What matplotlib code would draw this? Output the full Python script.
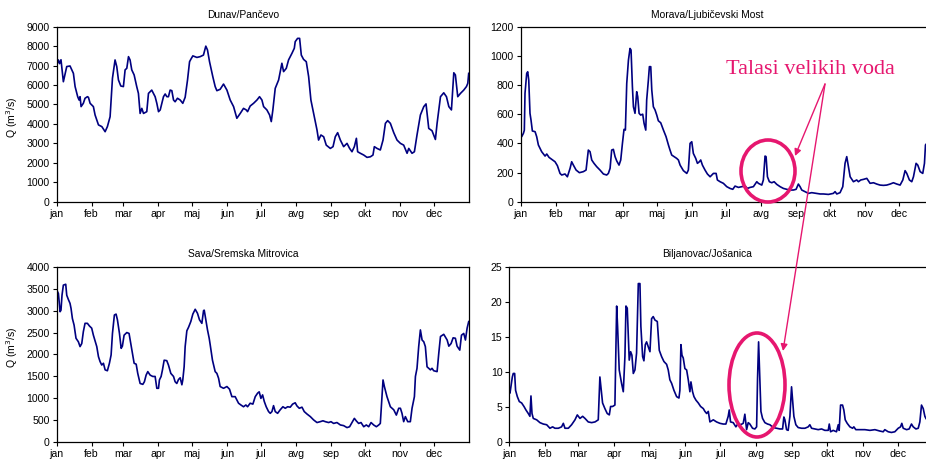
import matplotlib.pyplot as plt
from matplotlib.patches import Ellipse, FancyArrowPatch

plt.rcParams['font.family'] = ['Liberation Sans', 'DejaVu Sans']

months = ['jan', 'feb', 'mar', 'apr', 'maj', 'jun', 'jul', 'avg', 'sep', 'okt', 'nov', 'dec']
month_start = [0, 31, 59, 90, 120, 151, 181, 212, 243, 273, 304, 334]

# Dunav/Pančevo
dunav_day = [0, 1.5, 2.5, 3.8, 5.9, 8.9, 11.8, 14.8, 16.3, 18.6, 19.8, 20.7, 21.6, 23.6, 25.1, 27.2,
             28.1, 29.6, 32.5, 34, 37, 40, 42.9, 44.9, 47.3, 49.4, 51.7, 53.2, 54.7, 56.8, 59.1, 60.6,
             62.1, 63.6, 65, 66.5, 68.6, 70.9, 72.4, 73.9, 75.4, 76.9, 79.8, 81.3, 82.8, 84.2, 85.7,
             87.2, 88.7, 90.2, 91.7, 94.6, 96.1, 97.6, 99, 100.5, 102, 103.5, 104.9, 107, 109.4, 111.7,
             113.8, 115.9, 117.7, 118.8, 120.6, 124.2, 127.1, 130, 132.1, 133.6, 135.4, 138.3, 140.4,
             141.9, 144.8, 147.8, 150.8, 153.7, 156.7, 159.6, 162.6, 165.5, 167.9, 169.1, 171.4, 174.4,
             177.4, 179.7, 181.8, 183.3, 186.2, 188.6, 190.1, 191.5, 193.6, 196.6, 199.5, 201, 203.4,
             205.4, 208.4, 210.5, 211.3, 213.4, 215.2, 216.7, 218.7, 221.1, 223.2, 225.2, 227.6, 230.6,
             232, 234.1, 236.5, 238.8, 242.4, 244.8, 246.8, 248.9, 251.3, 254.2, 257.2, 259.5, 261.6,
             263.7, 265.5, 266.6, 269, 272, 274.9, 277.9, 280.2, 281.4, 283.8, 286.7, 289.1, 291.2,
             293.2, 295.6, 298.6, 301.5, 304.5, 307.4, 310.4, 311.9, 314.8, 316.9, 319.2, 322.2, 325.2,
             327.2, 329.6, 332.5, 335.5, 337, 340, 342.9, 345.3, 347.4, 349.7, 351.8, 353.2, 355.3,
             357.7, 360.6, 363, 364.2, 365]
dunav_q = [7030, 7290, 7100, 7300, 6170, 6950, 6980, 6600, 5920, 5400, 5230, 5400, 4890, 5060, 5320, 5400,
           5370, 5060, 4890, 4460, 3950, 3860, 3600, 3860, 4370, 6350, 7290, 6950, 6260, 5950, 5920, 6780,
           6860, 7460, 7290, 6780, 6520, 5920, 5570, 4540, 4800, 4540, 4630, 5570, 5660, 5740, 5570,
           5400, 5060, 4630, 4720, 5400, 5540, 5400, 5400, 5740, 5710, 5230, 5140, 5320, 5230, 5060,
           5370, 6260, 7200, 7320, 7500, 7420, 7460, 7540, 8000, 7800, 7200, 6430, 5920,
           5710, 5780, 6050, 5740, 5230, 4890, 4290, 4540, 4800, 4720, 4630, 4920, 5060,
           5230, 5400, 5230, 4890, 4720, 4460, 4120, 4720, 5830, 6260, 7120, 6690, 6860,
           7290, 7630, 7890, 8230, 8400, 8400, 7540, 7320, 7200, 6430, 5230, 4540, 3690,
           3170, 3430, 3340, 2910, 2740, 2830, 3340, 3550, 3170, 2830, 3000, 2740, 2570,
           2830, 3260, 2570, 2490, 2400, 2280, 2310, 2400, 2830, 2740, 2660, 3170, 4030,
           4170, 4030, 3550, 3170, 3000, 2910, 2490, 2740, 2490, 2570, 3430, 4460, 4890,
           5030, 3770, 3650, 3200, 4030, 5400, 5600, 5400, 4890, 4720, 6630, 6520, 5400,
           5570, 5740, 5920, 6090, 6600]

# Morava/Ljubičevski Most
morava_day = [0, 0.9, 2.4, 3.2, 3.8, 5.3, 6.2, 7.1, 8.2, 9.1, 10.3, 12.7, 14.1, 15.6, 18.5, 21.5, 23, 25,
              27.4, 30.3, 32.4, 34.7, 36.2, 39.1, 41.2, 43.6, 45, 46.5, 48.9, 51.8, 55.3, 57.7, 59.7,
              61.2, 62.7, 64.7, 67.1, 70, 73, 75.9, 77.4, 78.9, 80.3, 81.8, 83.3, 84.8, 86.8, 88.3,
              89.8, 91.2, 92.4, 93.6, 95.1, 96.5, 97.4, 98.6, 99.5, 100.9, 102.4, 103.3, 104.5, 105.9,
              107.7, 108.9, 110.4, 111.2, 112.7, 113.6, 114.8, 115.7, 117.1, 118.6, 120.1, 121.5,
              123.6, 126, 128.3, 130.4, 131.8, 133.3, 135.4, 137.7, 139.2, 140.7, 143.6, 146.6, 148,
              149.5, 151, 152.4, 154.5, 156, 157.7, 158.9, 160.4, 162.7, 164.8, 167.2, 170.1, 172.5,
              173.6, 176, 178.9, 181.9, 184.8, 187.2, 189.2, 192.2, 195.1, 198.1, 200.1, 202.5, 205.4,
              208.4, 209.8, 212.8, 214.2, 215.7, 216.6, 217.8, 219.5, 221.6, 223.7, 226, 229, 231.9,
              234.8, 237.8, 240.7, 243.1, 245.1, 246.6, 248.1, 251, 254, 256.9, 261.3, 264.3, 267.2,
              271.6, 276, 277.5, 279, 281.9, 284.3, 286.3, 287.8, 289.3, 290.8, 293.7, 296.6, 298.1,
              300.2, 302.5, 305.5, 306.9, 308.4, 311.4, 314.3, 317.2, 320.2, 323.1, 326.1, 329, 332,
              334.9, 337.3, 339.3, 340.8, 343.1, 345.2, 346.7, 349, 350.5, 352.6, 354.9, 356.4,
              357.3, 358.5, 360]
morava_q = [480, 446, 469, 490, 743, 880, 891, 834, 606, 560, 485, 480, 446, 389, 343, 313, 327, 304,
            290, 274, 247, 194, 183, 190, 171, 229, 274, 251, 217, 199, 206, 217, 354,
            343, 286, 263, 240, 217, 190, 183, 194, 229, 354, 359, 309, 279, 251, 286,
            400, 496, 491, 811, 971, 1051, 1040, 789, 651, 606, 754, 720, 606, 594,
            600, 537, 491, 697, 834, 926, 926, 766, 651, 629, 594, 555,
            541, 491, 446, 389, 354, 320, 309, 297, 286, 251, 213, 194, 217,
            400, 411, 331, 297, 263, 274, 286, 251, 217, 190, 171, 194, 194,
            149, 137, 126, 103, 91, 85, 107, 98, 103, 107, 91, 98, 103,
            137, 126, 114, 149, 313, 309, 171, 137, 130, 137, 119, 103, 91,
            85, 80, 80, 85, 121, 103, 80, 69, 57, 62, 57, 53, 53,
            50, 57, 69, 53, 62, 103, 263, 309, 240, 171, 137, 149, 137,
            149, 153, 160, 144, 126, 130, 121, 114, 112, 114, 121, 130, 121,
            114, 149, 213, 194, 149, 137, 171, 263, 251, 206, 194, 263,
            389, 400, 480]

# Sava/Sremska Mitrovica
sava_day = [0, 1.5, 3, 3.8, 4.7, 5.9, 8, 8.9, 10.3, 11.8, 12.7, 13.9, 15.4, 17.1, 19.2, 20.7, 22.2, 23.6,
            25.1, 27.2, 29, 31, 32.5, 35.5, 37, 38.4, 39.9, 41.4, 42.9, 44.9, 46.7, 48.2, 49.4, 51.1,
            52.6, 53.8, 55.6, 57.1, 58.2, 59.7, 62.1, 64.1, 65.6, 67.1, 68.6, 70.4, 71.8, 73.9, 76.3,
            77.7, 79.2, 80.7, 82.8, 85.1, 87.2, 88.7, 90.2, 91, 92.5, 93.7, 95.2, 97.5, 99, 101.1,
            103.5, 104.9, 106.4, 107.9, 109.4, 110.9, 111.7, 112.9, 113.8, 115.3, 116.8, 118.8, 120.6,
            122.7, 124.7, 126.5, 128.6, 130.1, 130.7, 132.1, 133.6, 135.1, 136, 138, 140.4, 141.9,
            143.4, 144.8, 147.8, 150.8, 153.1, 155.2, 158.1, 161.1, 163.2, 165.5, 167.6, 169.1, 171.4,
            173.8, 175.9, 178, 179.4, 180.9, 182.4, 183.9, 185.6, 187.7, 189.2, 190.7, 192.1, 193.6,
            195.7, 198, 200.4, 202.5, 204.6, 206.9, 209, 211.3, 212.8, 214.9, 217.3, 219.3, 221.7,
            224.7, 227.6, 230.6, 233.5, 235.9, 238, 240.9, 243, 245.3, 248.3, 251.3, 254.2, 257.2,
            259.5, 261.6, 263.7, 265.5, 267.5, 269.6, 272, 274.3, 276.4, 278.5, 280.8, 283.2, 285.3,
            286.7, 287.6, 289.1, 290.3, 292.6, 295.6, 298.6, 300.9, 303, 304.5, 305.9, 307.4, 308.9,
            311, 313.3, 314.8, 316.9, 317.8, 319.2, 320.7, 322.2, 323.7, 325.2, 326.6, 328.1, 331.1,
            332.5, 334, 337, 338.5, 340, 342.9, 345.9, 347.4, 349.4, 351.2, 353.2, 354.7, 357.1,
            358.6, 360.6, 362.1, 363.6, 365]
sava_q = [3470, 3390, 2975, 3010, 3350, 3580, 3600, 3350, 3255, 3165, 3050, 2820, 2670, 2370, 2290, 2180, 2250, 2520,
          2710, 2710, 2650, 2600, 2440, 2180, 1950, 1840, 1760, 1800, 1650, 1630, 1800, 1990, 2480, 2900,
          2920, 2790, 2480, 2140, 2190, 2440, 2500, 2480, 2250, 2030, 1800, 1780, 1570, 1340, 1320,
          1380, 1530, 1610, 1530, 1500, 1500, 1230, 1230, 1420, 1500, 1650, 1870, 1860, 1760, 1570,
          1500, 1380, 1340, 1430, 1470, 1310, 1420, 1720, 2180, 2540, 2620, 2750, 2920,
          3030, 2940, 2790, 2710, 3000, 3010, 2790, 2560, 2370, 2220, 1870, 1610, 1570,
          1460, 1270, 1230, 1270, 1210, 1040, 1040, 890, 850, 810, 850, 810, 890,
          870, 1040, 1120, 1150, 1000, 1080, 930, 810, 700, 660, 700, 835, 700,
          660, 740, 810, 775, 810, 800, 870, 900, 830, 775, 800, 700, 645,
          585, 510, 450, 470, 490, 470, 450, 470, 430, 450, 395, 380, 335,
          355, 450, 545, 485, 430, 450, 355, 395, 355, 450, 395, 355, 395,
          430, 810, 1420, 1270, 1040, 810, 740, 620, 775, 775, 660, 470, 585,
          470, 470, 775, 1040, 1500, 1685, 2180, 2560, 2330, 2290, 2180, 1720, 1650,
          1685, 1630, 1610, 2030, 2410, 2460, 2330, 2190, 2250, 2380, 2370, 2190, 2100,
          2440, 2480, 2330, 2600, 2750]

# Biljanovac/Jošanica
bilj_day = [0, 0.6, 1.4, 2.6, 3.4, 4.6, 5.4, 6.9, 8.6, 10.6, 12.6, 14.3, 16.3, 17.7, 18.6, 19.5, 20.6,
            23.5, 26.3, 29.2, 32.1, 34.9, 37.2, 39.2, 42.1, 44.9, 46.4, 47.8, 50.7, 53.5, 56.4, 58.4,
            60.7, 63, 65, 67.8, 70.7, 73.6, 76.4, 77.8, 78.7, 80.1, 82.1, 84.1, 85.9, 87, 88.7, 90.7,
            92.2, 93, 94.4, 96.4, 97.9, 99.3, 100.2, 101.3, 102.5, 103, 104.2, 105.3, 106.5, 107.9,
            109.3, 110.8, 112.2, 113, 114.5, 115.6, 116.8, 117.9, 119.3, 120.8, 122.2, 123.6, 125.1,
            127.1, 128.8, 130.8, 132.8, 135.1, 136.5, 137.9, 139.4, 141.4, 143.7, 145.7, 146.5,
            147.4, 148.3, 149.4, 150.8, 152.3, 153.7, 155.1, 156, 157.4, 158.6, 160.3, 162.3, 164.3,
            166.6, 168, 169.5, 170.9, 172.3, 175.2, 178, 180.9, 183.7, 186, 188, 188.9, 190, 192.3,
            194.6, 196.6, 198.6, 200.9, 202.3, 203.8, 205.2, 206.6, 208.9, 210.9, 212.4, 213.2,
            214.1, 214.9, 216.1, 217.5, 219.5, 221.8, 223.8, 226.7, 229.5, 232.4, 234.7, 235.8,
            236.7, 238.1, 239.5, 241, 242.4, 243.3, 244.4, 246.1, 248.1, 251, 253.9, 256.7, 258.1,
            259.6, 262.4, 265.3, 268.2, 271, 273.9, 274.8, 275.9, 278.2, 281, 282.5, 283.3, 284.5,
            286.2, 287.3, 288.5, 290.2, 292.5, 294.8, 295.9, 297.6, 301.1, 305.4, 309.7, 314, 318.3,
            321.1, 322.5, 325.4, 328.2, 331.1, 334, 336, 337.1, 338.3, 341.2, 343.4, 345.4, 346.9,
            349.2, 351.2, 352.6, 354, 355.5, 356.9, 357.8, 359.5]
bilj_q = [7.7, 7.0, 7.9, 9.3, 9.8, 9.8, 7.4, 6.5, 5.8, 5.6, 5.1, 4.6, 4.1, 3.7, 6.6, 4.1, 3.4,
          3.2, 2.8, 2.6, 2.5, 2.0, 2.2, 2.0, 2.0, 2.2, 2.7, 2.0, 2.0, 2.5, 3.2, 3.9,
          3.4, 3.7, 3.4, 2.9, 2.8, 2.9, 3.2, 9.3, 7.9, 5.6, 4.8, 4.1, 3.9, 5.1, 5.1, 5.3,
          19.4, 16.5, 10.3, 8.4, 7.2, 12.2, 19.4, 19.1, 14.1, 11.7, 12.9, 12.4, 9.8, 10.3,
          12.7, 22.6, 22.6, 16.5, 12.2, 11.6, 13.9, 14.3, 13.6, 12.9, 17.6, 17.9, 17.4,
          17.2, 13.1, 12.2, 11.5, 11.1, 10.3, 8.9, 8.4, 7.4, 6.5, 6.3, 7.4,
          13.9, 12.4, 12.0, 10.5, 10.3, 8.9, 7.2, 8.6, 7.2, 6.5, 6.0, 5.6, 5.1,
          4.8, 4.4, 4.1, 4.4, 2.9, 3.2, 2.9, 2.7, 2.6, 2.6, 3.7, 4.6, 2.9, 2.8,
          2.2, 2.7, 2.5, 2.7, 4.0, 1.8, 2.8, 2.6, 2.0, 1.9, 2.2, 9.1,
          14.3, 10.3, 4.4, 3.4, 2.8, 2.6, 2.5, 2.1, 2.0, 1.9, 1.9, 3.6,
          3.2, 1.8, 1.7, 3.7, 7.9, 6.0, 3.7, 2.5, 2.1, 2.0, 2.0, 2.2, 2.5,
          2.0, 1.9, 1.8, 1.9, 1.7, 1.7, 2.6, 1.5, 1.7, 1.5, 2.5, 1.7, 5.3,
          5.3, 4.6, 3.2, 2.7, 2.2, 2.0, 2.2, 1.8, 1.8, 1.8, 1.7, 1.8, 1.6,
          1.5, 1.8, 1.5, 1.4, 1.5, 2.0, 2.2, 2.7, 2.0, 1.8, 1.9, 2.6, 2.2,
          1.9, 2.0, 2.9, 5.3, 4.8, 3.7, 3.4, 3.0]

LINE = '#000080'
PINK = '#E6176F'
W, H = 926, 463

fig = plt.figure(figsize=(W / 100, H / 100), dpi=100)


def px_axes(left, top, width, height):
    return fig.add_axes([left / W, 1 - (top + height) / H, width / W, height / H])


def panel(ax, day, q, ymax, ystep, title, tx, ty, ylabel=None, ly=None):
    ax.plot(day, q, color=LINE, lw=1.2)
    ax.set_xlim(0, 365)
    ax.set_ylim(0, ymax)
    ax.set_yticks(range(0, ymax + 1, ystep))
    ax.set_xticks(month_start)
    ax.set_xticklabels(months)
    ax.tick_params(direction='out', length=3, width=0.8, labelsize=7.6, pad=2, colors='black')
    for s in ax.spines.values():
        s.set_linewidth(0.9)
    fig.text(tx / W, 1 - ty / H, title, ha='center', va='center', fontsize=7.4)
    if ylabel:
        fig.text(12 / W, 1 - ly / H, ylabel, rotation=90, ha='center', va='center', fontsize=7.6)


ax1 = px_axes(56.7, 26.7, 412.0, 175.0)
panel(ax1, dunav_day, dunav_q, 9000, 1000, 'Dunav/Pančevo', 243, 15, 'Q (m$^3$/s)', 117)

ax2 = px_axes(520.7, 26.7, 413.5, 175.0)
panel(ax2, morava_day, morava_q, 1200, 200, 'Morava/Ljubičevski Most', 707, 15)

ax3 = px_axes(56.7, 266.7, 412.0, 175.6)
panel(ax3, sava_day, sava_q, 4000, 500, 'Sava/Sremska Mitrovica', 243, 254, 'Q (m$^3$/s)', 347)

ax4 = px_axes(509.3, 266.7, 425.0, 175.6)
panel(ax4, bilj_day, bilj_q, 25, 5, 'Biljanovac/Jošanica', 707, 254)

# overlay for the annotation
ov = fig.add_axes([0, 0, 1, 1])
ov.set_xlim(0, W)
ov.set_ylim(H, 0)
ov.axis('off')
ov.patch.set_alpha(0)

ov.text(810, 69, 'Talasi velikih voda', color=PINK, fontsize=16,
        family=['Liberation Serif', 'DejaVu Serif'], ha='center', va='center')
ov.add_patch(Ellipse((768, 171), 54, 62, fill=False, ec=PINK, lw=2.6))
ov.add_patch(Ellipse((757, 385), 56, 104, fill=False, ec=PINK, lw=2.6))
for end in [(795, 156), (783, 351)]:
    ov.add_patch(FancyArrowPatch((825, 84), end, arrowstyle='-|>', mutation_scale=10,
                                 color=PINK, lw=1.0, shrinkA=0, shrinkB=0))

fig.savefig('out.png', dpi=100)
